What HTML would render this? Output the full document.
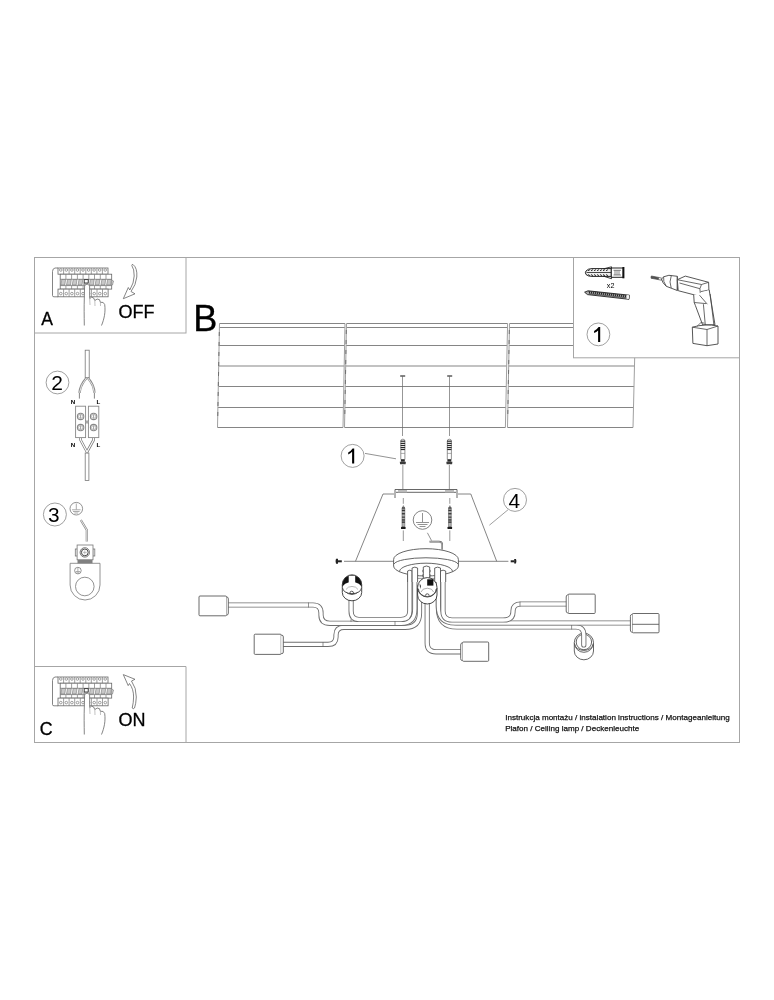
<!DOCTYPE html>
<html><head><meta charset="utf-8">
<style>
html,body{margin:0;padding:0;background:#fff;width:774px;height:1000px;overflow:hidden}
svg{position:absolute;left:0;top:0;display:block;will-change:transform}
text{font-family:"Liberation Sans",sans-serif;fill:#000}
</style></head>
<body>
<svg width="774" height="1000" viewBox="0 0 774 1000">
<rect x="0" y="0" width="774" height="1000" fill="#fff"/>

<!-- FRAME -->
<g fill="none" stroke="#a6a6a6" stroke-width="1">
  <rect x="34.5" y="257.5" width="705" height="485"/>
  <rect x="34.5" y="257.5" width="151.5" height="75.5"/>
  <line x1="34.5" y1="666.5" x2="186" y2="666.5"/>
  <line x1="186" y1="666.5" x2="186" y2="742.5"/>
</g>

<!-- PLANKS -->
<g fill="none" stroke="#858585" stroke-width="1">
  <path d="M219.5,323.5 H345 M219.4,327.5 H344.9 M219.1,345.5 H344.6 M218.7,366 H344.2 M218.3,386.5 H343.8 M217.9,407.5 H343.4 M217.5,427.5 H343"/>
  <path d="M346.5,323.5 H507.6 M346.4,327.5 H507.5 M346.1,345.5 H507.1 M345.7,366 H506.7 M345.3,386.5 H506.3 M344.9,407.5 H505.8 M344.5,427.5 H505.4"/>
  <path d="M509.5,323.5 H635.5 M509.4,327.5 H635.4 M509.1,345.5 H635 M508.7,366 H634.6 M508.3,386.5 H634.1 M507.9,407.5 H633.6 M507.5,427.5 H633"/>
</g>
<g fill="none" stroke="#a0a0a0" stroke-width="1">
  <path d="M219.5,323.5 L217.5,427.5 M345,323.5 L343,427.5 M346.5,323.5 L344.5,427.5 M507.6,323.5 L505.4,427.5 M509.5,323.5 L507.5,427.5 M635.5,323.5 L633,427.5"/>
</g>
<g fill="none" stroke="#707070" stroke-width="1" stroke-dasharray="4 6">
  <path d="M219.3,332 L217.7,420 M346.3,330 L344.7,420 M509.3,330 L507.7,420"/>
</g>

<!-- CENTER MOUNTING -->
<g fill="none" stroke="#6a6a6a" stroke-width="0.7">
  <path d="M402.5,376 V436 M449.5,376 V436"/>
  <path d="M402.85,465 V489 M449.35,465 V489"/>
  <path d="M403.3,498 V503.8 M449.8,498 V503.8 M403.3,530.4 V541 M449.8,530.4 V541"/>
</g>
<g fill="#666">
  <rect x="400.2" y="375.2" width="5" height="1.6"/>
  <rect x="447.2" y="375.2" width="5" height="1.6"/>
</g>
<!-- anchors -->
<g id="anchor1">
  <path d="M400.8,459.5 V441 Q400.8,439.2 402.85,439.2 Q404.9,439.2 404.9,441 V459.5" fill="#fff" stroke="#666" stroke-width="0.7"/>
  <g fill="#2a2a2a">
    <rect x="400.6" y="440.6" width="4.5" height="1.2"/>
    <rect x="400.6" y="442.8" width="4.5" height="1.2"/>
    <rect x="400.6" y="444.9" width="4.5" height="1.2"/>
    <rect x="400.6" y="447" width="4.5" height="1.2"/>
    <rect x="400.8" y="449" width="4.1" height="1.1"/>
    <rect x="400.9" y="459.2" width="3.9" height="2.5"/>
  </g>
  <path d="M400.8,453.4 H404.9" stroke="#777" stroke-width="0.6"/>
  <path d="M399.8,461.7 H405.9 L405.6,464.2 H400.1 Z" fill="#3a3a3a"/>
</g>
<use href="#anchor1" x="46.5"/>
<!-- circle 1 -->
<circle cx="352.6" cy="455.9" r="11.5" fill="none" stroke="#888" stroke-width="0.8"/>
<path d="M354.2,448.5 V463.6 H352.1 V451.8 Q350.5,453.5 348.2,454.6 V452.5 Q351,451 352.6,448.5 Z" fill="#000"/>
<line x1="365" y1="453.4" x2="396" y2="458.8" stroke="#777" stroke-width="0.8"/>
<!-- bracket -->
<g fill="none" stroke="#555" stroke-width="0.9">
  <path d="M395,498 V489.5 H457 V498"/>
  <path d="M396,492.3 H456"/>
</g>
<rect x="398" y="490" width="9" height="2.4" fill="#bbb"/>
<rect x="445" y="490" width="9" height="2.4" fill="#bbb"/>
<!-- trapezoid -->
<g fill="none" stroke="#666" stroke-width="0.8">
  <path d="M394,494 H383 L355.5,561.3 M458,494 H470.8 L496.7,561.3"/>
  <path d="M344,561.3 H395 M457,561.3 H508.4"/>
</g>
<!-- side screws -->
<g fill="#222">
  <rect x="337.8" y="560.3" width="4" height="2"/>
  <path d="M336,558.8 Q335,561.3 336,563.8 H338 V558.8 Z"/>
  <rect x="510.7" y="560.3" width="3.6" height="2"/>
  <path d="M514.2,559 H516 Q517,561.3 516,563.6 H514.2 Z"/>
</g>
<!-- wood screws -->
<g id="wscrew">
  <path d="M402,508.5 L403.4,505.6 L404.8,508.5 V526.6 H402 Z" fill="#b0b0b0" stroke="#555" stroke-width="0.5"/>
  <g fill="#333">
    <rect x="401.9" y="507.4" width="3" height="1.2"/>
    <rect x="401.9" y="509.8" width="3" height="1.3"/>
    <rect x="401.9" y="513.1" width="3" height="1.3"/>
    <rect x="401.9" y="516.6" width="3" height="1.1"/>
    <rect x="401.9" y="519.3" width="3" height="1.3"/>
    <rect x="401.9" y="521.5" width="3" height="1.3"/>
  </g>
  <rect x="401" y="526.8" width="4.6" height="2.3" rx="0.6" fill="#1a1a1a"/>
</g>
<use href="#wscrew" x="46.5"/>
<!-- circle 4 -->
<circle cx="515" cy="499.9" r="11.5" fill="none" stroke="#888" stroke-width="0.8"/>
<text x="508.4" y="507.5" font-size="20.8">4</text>
<line x1="508.1" y1="509.7" x2="489.4" y2="525.2" stroke="#888" stroke-width="0.8"/>
<!-- ground symbol -->
<circle cx="422.5" cy="520" r="9.3" fill="none" stroke="#666" stroke-width="0.8"/>
<g stroke="#777" stroke-width="0.8" fill="none">
  <path d="M422.5,513 V522 M416,522.5 H429 M417.5,524.5 H427.5 M419.5,526.5 H425.5"/>
</g>
<path d="M427.4,532.8 L431.5,540.5" stroke="#777" stroke-width="0.8" fill="none"/>
<path d="M429.5,541.6 H439 Q442.2,541.6 442.2,545 V549.5" stroke="#555" stroke-width="1.6" fill="none"/>
<path d="M429.5,541.6 H439 Q442.2,541.6 442.2,545 V549.5" stroke="#fff" stroke-width="0.5" fill="none"/>

<!-- socket F -->
<g fill="none" stroke="#555" stroke-width="0.9">
  <path d="M574.3,642.7 V651 A9.6,8.8 0 0 0 593.5,651 V642.7" fill="#fff"/>
  <circle cx="583.9" cy="642.7" r="9.6" fill="#fff"/>
  <path d="M574.5,644 A9.5,7.5 0 0 0 593.3,644"/>
  <circle cx="583.9" cy="642" r="7.7"/>
</g>
<!-- ARMS -->
<defs>
  <path id="tA" d="M414.8,568 V609 Q414.8,623.3 401,623.3 H330 Q321,623.3 321,615 V613 Q321,605 313,605 H227"/>
  <path id="tB" d="M419.5,585 V613 Q419.5,627.4 405,627.4 H344 Q336,627.4 336,635 V637 Q336,644.4 328,644.4 H282"/>
  <path id="tS" d="M409.8,571 V611 Q409.8,619.5 401,619.5 H359 Q351.1,619.5 351.1,611 V598"/>
  <path id="tC" d="M427.2,598 V643 Q427.2,651.8 436,651.8 H461"/>
  <path id="tD" d="M443,571 V611 Q443,620 452,620 H503 Q513,620 513,612 V611 Q513,604 521,604 H567"/>
  <path id="tE" d="M438.4,568 V606 Q438.4,623 455,623 H631"/>
  <path id="tF" d="M438.4,600 V608 Q438.4,627 457,627 H576 Q583.8,627 583.8,635 V645"/>
</defs>
<g fill="none" stroke-linejoin="round">
  <g stroke="#6e6e6e" stroke-width="5.2" stroke-linecap="round">
    <use href="#tF"/>
  </g>
  <g stroke="#fff" stroke-width="3.4" stroke-linecap="round">
    <use href="#tF"/>
  </g>
  <g stroke="#6e6e6e" stroke-width="5.2">
    <use href="#tE"/>
  </g>
  <g stroke="#fff" stroke-width="3.4">
    <use href="#tE"/>
  </g>
  <g stroke="#6e6e6e" stroke-width="5.2"><use href="#tD"/></g>
  <g stroke="#fff" stroke-width="3.4"><use href="#tD"/></g>
  <g stroke="#6e6e6e" stroke-width="5.2"><use href="#tB"/></g>
  <g stroke="#fff" stroke-width="3.4"><use href="#tB"/></g>
  <g stroke="#6e6e6e" stroke-width="5.2"><use href="#tA"/></g>
  <g stroke="#fff" stroke-width="3.4"><use href="#tA"/></g>
  <g stroke="#6e6e6e" stroke-width="5.2"><use href="#tS"/></g>
  <g stroke="#fff" stroke-width="3.4"><use href="#tS"/></g>
  <g stroke="#6e6e6e" stroke-width="5.2"><use href="#tC"/></g>
  <g stroke="#fff" stroke-width="3.4"><use href="#tC"/></g>
</g>
<!-- joints -->
<g stroke="#666" stroke-width="0.7">
  <path d="M308.5,602.5 V607.5 M323,642 V647 M351,619.3 V621.9 M395,621 V625.6 M571.6,625 V629.5 M520,601.5 V606.5"/>
</g>
<!-- shades -->
<g fill="#fff" stroke="#5a5a5a" stroke-width="0.9">
  <rect x="199" y="596" width="27.5" height="19.8" rx="1"/>
  <path d="M226.5,597 H227 Q228.3,597 228.3,599 V613 Q228.3,615 227,615 H226.5"/>
  <rect x="254.2" y="634.2" width="27" height="20.2" rx="1"/>
  <path d="M281.2,635.2 H282 Q283.3,635.2 283.3,637 V652 Q283.3,653.6 282,653.6 H281.2"/>
  <rect x="462.5" y="642" width="26.2" height="19.3" rx="1"/>
  <path d="M462.5,643 H461.9 Q460.7,643 460.7,645 V658.5 Q460.7,660.5 461.9,660.5 H462.5"/>
  <rect x="568" y="594.1" width="27.2" height="19.4" rx="1"/>
  <path d="M568,595 H567.5 Q566.2,595 566.2,597 V611 Q566.2,612.8 567.5,612.8 H568"/>
  <rect x="632.2" y="613.5" width="26.8" height="19.3" rx="1"/>
  <path d="M632.2,614.5 H631.6 Q630.4,614.5 630.4,616.5 V630 Q630.4,632 631.6,632 H632.2"/>
  <path d="M632.2,624.3 H659" fill="none"/>
</g>
<!-- canopy -->
<g stroke="#555" stroke-width="0.9">
  <path d="M393.6,559.5 A32.4,10.8 0 0 1 458.4,559.5 V566 A32.4,10 0 0 1 393.6,566 Z" fill="#fff"/>
  <path d="M394,564 A32.2,7 0 0 1 458,564" fill="none"/>
  <path d="M399.5,571.5 A26.5,8.3 0 0 1 452.5,571.5" fill="none"/>
</g>
<!-- drop tubes near canopy -->
<g fill="#fff" stroke="#555" stroke-width="0.9">
  <path d="M407.6,582 V571 Q409.8,569.3 412.1,571 V582"/>
  <path d="M412.1,582 V568 Q414.8,566.3 417.6,568 V582"/>
  <path d="M434.7,582 V568 Q437.6,566.3 440.5,568 V582"/>
  <path d="M440.5,582 V571 Q443,569.3 445.7,571 V582"/>
</g>
<g fill="#fff" stroke="#555" stroke-width="0.9">
  <path d="M423.3,579 V567 Q426.5,565 429.7,567 V579" />
  <path d="M423.3,569.5 l-0.8,1.5 l0.8,1.5 M423.3,574 l-0.8,1.5 l0.8,1.5 M429.7,569.5 l0.8,1.5 l-0.8,1.5 M429.7,574 l0.8,1.5 l-0.8,1.5" fill="none" stroke-width="0.7"/>
  <path d="M417.6,578.4 H434.7" fill="none" stroke-width="0.6"/>
</g>
<!-- sockets (cups) -->
<defs>
  <clipPath id="clipTop1"><rect x="330" y="570" width="50" height="13.3"/></clipPath>
  <clipPath id="clipTop2"><rect x="400" y="570" width="50" height="15.5"/></clipPath>
</defs>
<g id="sockL">
  <path d="M342.3,585 V592.5 A9.7,8.3 0 0 0 361.7,592.5 V585" fill="#fff" stroke="#333" stroke-width="0.9"/>
  <circle cx="352" cy="584.6" r="9.7" fill="#111" stroke="#333" stroke-width="0.9"/>
  <ellipse cx="352" cy="588" rx="9.6" ry="6" fill="#fff"/>
  <rect x="348.7" y="575.3" width="6.5" height="9" fill="#fff"/>
  <path d="M348.7,575.3 H355.2" stroke="#333" stroke-width="0.8"/>
  <path d="M342.4,587.5 A9.6,6.2 0 0 0 361.6,587.5" fill="none" stroke="#333" stroke-width="0.9"/>
  <path d="M346,589.5 A6.5,5 0 0 1 358,589.5" fill="none" stroke="#888" stroke-width="0.6"/>
  <path d="M349.9,593 A1.8,1.8 0 0 1 353.5,593" fill="none" stroke="#333" stroke-width="0.8"/>
</g>
<g>
  <path d="M417.6,588 V595 A9.7,9 0 0 0 437,595 V588" fill="#fff" stroke="#333" stroke-width="0.9"/>
  <circle cx="427.3" cy="587.3" r="9.7" fill="#fff" stroke="#333" stroke-width="0.9"/>
  <rect x="427.2" y="579.3" width="6.2" height="6.3" fill="#111"/>
  <path d="M419.5,583 L421,586 L420.2,589 Z" fill="#333"/>
  <path d="M418.5,589 A8.8,7.5 0 0 0 436.1,589" fill="none" stroke="#444" stroke-width="0.8"/>
  <path d="M421,592 A6.5,5 0 0 1 433.6,592" fill="none" stroke="#777" stroke-width="0.6"/>
  <path d="M425.5,595.6 A1.8,1.8 0 0 1 429.1,595.6" fill="none" stroke="#333" stroke-width="0.8"/>
</g>
<!-- BOX 1 -->
<rect x="573.5" y="257.5" width="166" height="100.3" fill="#fff" stroke="#a6a6a6" stroke-width="1"/>
<g>
  <!-- plug -->
  <path d="M586,271 Q584.8,272.5 586,274.5 Q588,276.4 592,276.4 H611.3 V268.6 H592 Q588,268.6 586,271 Z" fill="#eee" stroke="#222" stroke-width="1"/>
  <path d="M586.5,272.5 H611" stroke="#333" stroke-width="0.9"/>
  <path d="M588,270.8 l2,-1.2 M591,270.8 l2,-1.2 M594,270.8 l2,-1.2 M597,270.8 l2,-1.2 M600,270.8 l2,-1.2 M603,270.8 l2,-1.2 M606,270.8 l2,-1.2 M588,274.5 l2,1.2 M591,274.5 l2,1.2 M594,274.5 l2,1.2 M597,274.5 l2,1.2 M600,274.5 l2,1.2 M603,274.5 l2,1.2 M606,274.5 l2,1.2" stroke="#222" stroke-width="0.9"/>
  <path d="M603,269 L611.5,266.8 V269 M603,276 L611.5,278.7 V276" fill="none" stroke="#222" stroke-width="0.9"/>
  <rect x="611.3" y="268" width="12" height="9.3" fill="#fff" stroke="#222" stroke-width="1"/>
  <path d="M613.5,270.3 H621 M613.5,275 H621 M615,270.3 V275 M617,270.3 V275 M619,270.3 V275" stroke="#555" stroke-width="0.7"/>
  <rect x="622.4" y="267" width="2" height="11.3" fill="#111"/>
  <text x="606.8" y="288.1" font-size="7.2">x2</text>
  <!-- screw -->
  <path d="M584.6,292.2 L588,290.8 L629.4,295.2 L629,299.3 L587.5,294.6 Z" fill="#aaa" stroke="#222" stroke-width="0.9"/>
  <path d="M589,291 l1.2,3.4 M591,291.2 l1.2,3.4 M593,291.4 l1.2,3.4 M595,291.6 l1.2,3.4 M597,291.8 l1.2,3.4 M599,292 l1.2,3.4 M601,292.2 l1.2,3.4 M603,292.5 l1.2,3.4 M605,292.7 l1.2,3.4 M607,292.9 l1.2,3.4 M609,293.1 l1.2,3.4 M611,293.3 l1.2,3.4 M613,293.6 l1.2,3.4 M615,293.8 l1.2,3.4 M617,294 l1.2,3.4 M619,294.2 l1.2,3.4 M621,294.4 l1.2,3.4 M623,294.7 l1.2,3.4 M625,294.9 l1.2,3.4" stroke="#111" stroke-width="0.9"/>
  <rect x="626.6" y="295.2" width="2.4" height="3.8" fill="#f4f4f4" transform="rotate(6 627.8 297)"/>
  <!-- circle 1 -->
  <circle cx="598.4" cy="334.4" r="11.4" fill="none" stroke="#888" stroke-width="0.8"/>
  <path d="M600.2,327 V341.9 H598.1 V330.4 Q596.5,332 594.1,333 V331 Q597,329.5 598.6,327 Z" fill="#000"/>
  <!-- drill -->
  <g fill="none" stroke="#444" stroke-width="0.9" stroke-linejoin="round">
    <path d="M651.3,276 L658.5,277.4 L658.3,279.6 L651,278.2 Z" fill="#555" stroke-width="0.7"/>
    <path d="M658.5,277.4 L661.8,278.2 L661.5,280.2 L658.3,279.6" stroke-width="0.7"/>
    <path d="M661.5,279 Q662.5,276.3 668.9,275.3 L677.3,276.3 V290.5 L666.3,286.3 Q662.3,283 661.5,279 Z" fill="#fff"/>
    <path d="M663.6,276.8 Q662.8,281.5 666.3,286.3 M671.3,275.6 Q668.8,282 671.2,288 M677.3,276.3 V290.5" stroke-width="0.8"/>
    <path d="M677.3,279.7 L685.3,276.1 L708.6,282.3 L708.9,290 L709.2,293.9 L700.5,295.5 L694.4,294.9 L678.2,290.7 Z" fill="#fff"/>
    <path d="M677.3,279.7 L701.5,284.5 L708.6,282.3 M679.5,283 L699.9,288.7 M701.5,284.5 L699.9,288.7 L700.5,295.5 M700.8,291.6 L708.9,290" stroke-width="0.8"/>
    <path d="M693.7,294.9 L694.2,302.5 L695.4,305.5 L702.6,324.8 H715 L709.2,290" fill="#fff"/>
    <path d="M694.2,302.5 L706,303.6 M699.5,295.2 L707.3,304.2 M703.4,304.2 L705.4,326 M710.2,294 L714,326" stroke-width="0.8"/>
    <path d="M692.3,327.2 Q705,323.5 718,326 V344 L707,345.7 L692.9,343.4 Z" fill="#fff"/>
    <path d="M692.3,327.2 L707,329.5 L718,326 M707,329.5 V345.7" stroke-width="0.8"/>
    <path d="M697,326.3 L701,322.5 L704.5,323.2" stroke-width="0.7"/>
  </g>
</g>

<!-- LEFT PANELS -->
<g id="panelA">
  <path d="M58,268 H55 Q52.5,268.5 52.5,271.5 V295.5 Q52.5,296.8 54,296.8 H58" fill="#fff" stroke="#666" stroke-width="0.8"/>
  <rect x="58" y="268" width="50" height="6.2" fill="#fff" stroke="#666" stroke-width="0.8"/>
  <rect x="60.2" y="274.2" width="51.5" height="14.9" fill="#fff" stroke="#666" stroke-width="0.8"/>
  <rect x="58" y="289.1" width="50.1" height="7.7" fill="#fff" stroke="#666" stroke-width="0.8"/>
  <path d="M63.6,268 V274.2 M69.1,268 V274.2 M74.7,268 V274.2 M80.2,268 V274.2 M85.8,268 V274.2 M91.3,268 V274.2 M96.9,268 V274.2 M102.4,268 V274.2 M63.6,289.1 V296.8 M69.1,289.1 V296.8 M74.7,289.1 V296.8 M80.3,289.1 V296.8 M85.8,289.1 V296.8 M91.4,289.1 V296.8 M97.0,289.1 V296.8 M102.5,289.1 V296.8 M65.9,274.2 V279 M65.9,285.8 V289.1 M71.6,274.2 V279 M71.6,285.8 V289.1 M77.4,274.2 V279 M77.4,285.8 V289.1 M83.1,274.2 V279 M83.1,285.8 V289.1 M88.8,274.2 V279 M88.8,285.8 V289.1 M94.5,274.2 V279 M94.5,285.8 V289.1 M100.3,274.2 V279 M100.3,285.8 V289.1 M106.0,274.2 V279 M106.0,285.8 V289.1 " stroke="#777" stroke-width="0.7" fill="none"/>
  <g fill="none" stroke="#777" stroke-width="0.7"><circle cx="60.8" cy="270" r="1.3"/><circle cx="60.8" cy="293.6" r="1.3"/><circle cx="66.3" cy="270" r="1.3"/><circle cx="66.3" cy="293.6" r="1.3"/><circle cx="71.9" cy="270" r="1.3"/><circle cx="71.9" cy="293.6" r="1.3"/><circle cx="77.4" cy="270" r="1.3"/><circle cx="77.5" cy="293.6" r="1.3"/><circle cx="83.0" cy="270" r="1.3"/><circle cx="83.0" cy="293.6" r="1.3"/><circle cx="88.6" cy="270" r="1.3"/><circle cx="88.6" cy="293.6" r="1.3"/><circle cx="94.1" cy="270" r="1.3"/><circle cx="94.2" cy="293.6" r="1.3"/><circle cx="99.7" cy="270" r="1.3"/><circle cx="99.8" cy="293.6" r="1.3"/><circle cx="105.2" cy="270" r="1.3"/><circle cx="105.3" cy="293.6" r="1.3"/></g>
  <path d="M60.2,279.3 H111.7 M60.2,285.6 H111.7" stroke="#777" stroke-width="0.8" fill="none"/>
  <g fill="#c8c8c8" stroke="#666" stroke-width="0.5"><path d="M60.8,285 L61.8,279.5 H65.6 L64.8,285 Z"/><path d="M66.5,285 L67.5,279.5 H71.3 L70.5,285 Z"/><path d="M72.2,285 L73.2,279.5 H77.0 L76.2,285 Z"/><path d="M78.0,285 L79.0,279.5 H82.8 L82.0,285 Z"/><path d="M83.7,285 L84.7,279.5 H88.5 L87.7,285 Z"/><path d="M89.4,285 L90.4,279.5 H94.2 L93.4,285 Z"/><path d="M95.1,285 L96.1,279.5 H99.9 L99.1,285 Z"/><path d="M100.9,285 L101.9,279.5 H105.7 L104.9,285 Z"/><path d="M106.6,285 L107.6,279.5 H111.4 L110.6,285 Z"/></g>
  <path d="M111.7,280 L113.5,281 L112.5,285 H111.7" fill="#ccc" stroke="#777" stroke-width="0.6"/>
  <rect x="84.2" y="279.6" width="4" height="3.4" fill="#fff" stroke="#333" stroke-width="0.9"/>
  <path d="M84.3,325.5 C84.2,316 84,306 84.3,299 L84.6,285.5 Q87.1,282.6 89.6,285.5 L89.7,298.5 Q91.5,296.5 93.5,297.8 L94.8,300.5 Q97.2,298 99.5,299.7 L100.4,302.3 Q103.7,301.5 104.7,304.5 C105.7,312 104.2,319 101.5,325.5" fill="#fff" stroke="#666" stroke-width="0.8"/>
  <path d="M89.7,298.5 L90,305 M94.8,300.5 L95,306 M100.4,302.3 L100.5,306" fill="none" stroke="#999" stroke-width="0.6"/>
</g>
<use href="#panelA" y="409"/>
<!-- arrows -->
<path d="M133,264.5 Q137.5,268 136.8,277 Q136,285 131,291.5 L135,293.8 L123.3,298.7 L128.3,287.5 L129.8,290 Q134,283 134.2,276 Q134.3,269 131.8,265.5 Q132,264 133,264.5 Z" fill="#fff" stroke="#666" stroke-width="0.8"/>
<path d="M123.3,674.6 L135,679.3 L131.5,681 Q136.5,688 136.3,697 Q136,704 134.5,708 Q133,709.5 132.2,708 Q133.5,703 133.6,697 Q133.6,689 129.5,683.5 L128.2,685.6 Z" fill="#fff" stroke="#666" stroke-width="0.8"/>

<!-- circle 2 wiring -->
<circle cx="57.5" cy="382.5" r="11.4" fill="none" stroke="#888" stroke-width="0.8"/>
<text x="51.3" y="390.1" font-size="21">2</text>
<g fill="#fff" stroke="#777" stroke-width="0.8">
  <rect x="85.2" y="350.2" width="4" height="27.4"/>
  <rect x="85.2" y="453" width="3.7" height="27.4"/>
</g>
<g fill="none" stroke-linejoin="round">
  <path d="M86.6,377.8 Q80.3,385 79.5,392.8 M87.8,377.8 Q94,385 94.4,392.8" stroke="#8a8a8a" stroke-width="2.4"/>
  <path d="M86.6,377.8 Q80.3,385 79.5,392.8 M87.8,377.8 Q94,385 94.4,392.8" stroke="#e4e4e4" stroke-width="1"/>
  <path d="M79.4,392.8 V398.6 M94.4,392.8 V398.6" stroke="#777" stroke-width="0.9"/>
  <path d="M80.6,438 V440 L87,452 L93.6,440 V438" stroke="#777" stroke-width="2.6"/>
  <path d="M80.6,438 V440 L87,452 L93.6,440 V438" stroke="#fff" stroke-width="1.2"/>
</g>
<g fill="#fff" stroke="#888" stroke-width="0.9">
  <rect x="75.6" y="406.2" width="10" height="31.4"/>
  <rect x="88.4" y="406.2" width="10.4" height="31.4"/>
</g>
<g fill="none" stroke="#888" stroke-width="0.8">
  <circle cx="80.6" cy="416.4" r="3.2" stroke-width="1.1"/><circle cx="80.6" cy="427.6" r="3.2" stroke-width="1.1"/>
  <circle cx="93.6" cy="416.4" r="3.2" stroke-width="1.1"/><circle cx="93.6" cy="427.6" r="3.2" stroke-width="1.1"/>
  <circle cx="80.6" cy="416.4" r="2.1" stroke="#aaa"/><circle cx="80.6" cy="427.6" r="2.1" stroke="#aaa"/>
  <circle cx="93.6" cy="416.4" r="2.1" stroke="#aaa"/><circle cx="93.6" cy="427.6" r="2.1" stroke="#aaa"/>
  <path d="M80.6,414.5 V418.3 M80.6,425.7 V429.5 M93.6,414.5 V418.3 M93.6,425.7 V429.5"/>
  <path d="M85.6,420 L87,422 L88.4,420 M85.6,424 L87,422 L88.4,424"/>
</g>
<g font-weight="bold" font-size="6.2">
  <text x="70.8" y="404.3">N</text><text x="96.6" y="404.3">L</text>
  <text x="70.8" y="446.5">N</text><text x="96.6" y="446.5">L</text>
</g>

<!-- circle 3 ground lug -->
<circle cx="54.9" cy="514.5" r="11.5" fill="none" stroke="#888" stroke-width="0.8"/>
<text x="47.9" y="522.3" font-size="20.8">3</text>
<circle cx="76.3" cy="508.7" r="6.3" fill="none" stroke="#777" stroke-width="0.8"/>
<path d="M76.3,503.5 V509.5 M72,509.8 H80.6 M73,511.5 H79.6 M74.3,513 H78.3" stroke="#888" stroke-width="0.7" fill="none"/>
<path d="M80.8,520 L86.8,530 V541.5" stroke="#888" stroke-width="2.2" fill="none"/>
<path d="M80.8,520 L86.8,530 V541.5" stroke="#fff" stroke-width="0.8" fill="none"/>
<g fill="#fff" stroke="#777" stroke-width="0.8">
  <path d="M70.1,563.3 H100 V585 A14.95,15 0 0 1 70.1,585 Z"/>
  <circle cx="84.8" cy="586.5" r="9.3"/>
  <circle cx="77.9" cy="570.6" r="3.3"/>
  <rect x="75.3" y="549" width="2" height="7"/>
  <rect x="92.8" y="549" width="2" height="7"/>
  <rect x="77.1" y="545" width="15.9" height="14.8"/>
</g>
<path d="M77.9,568 V571.3 M75.8,571.5 H80 M76.5,572.8 H79.3" stroke="#777" stroke-width="0.6" fill="none"/>
<rect x="77.5" y="559.8" width="15" height="3.5" fill="#808080"/>
<circle cx="84.8" cy="552.4" r="4.7" fill="#fff" stroke="#555" stroke-width="0.8"/>
<circle cx="84.8" cy="552.4" r="3.4" fill="#fff" stroke="#333" stroke-width="0.9"/>
<path d="M82.8,552.4 H86.8 M84.8,550.4 V554.4" stroke="#999" stroke-width="0.6"/>

<!-- LETTERS -->
<text x="193.3" y="330.9" font-size="36.2" stroke="#000" stroke-width="0.3">B</text>
<text x="41.2" y="325" font-size="17.5" stroke="#000" stroke-width="0.3">A</text>
<text x="39.8" y="734.6" font-size="17.8" stroke="#000" stroke-width="0.3">C</text>
<text x="118.6" y="318.2" font-size="18" stroke="#000" stroke-width="0.3">OFF</text>
<text x="118.6" y="726.2" font-size="18" stroke="#000" stroke-width="0.3">ON</text>

<text x="505.2" y="720.3" font-size="8.1" textLength="224.5" lengthAdjust="spacingAndGlyphs" stroke="#222" stroke-width="0.25">Instrukcja montażu / instalation instructions / Montageanleitung</text>
<text x="505.2" y="730.9" font-size="8.1" textLength="134" lengthAdjust="spacingAndGlyphs" stroke="#222" stroke-width="0.25">Plafon / Ceiling lamp / Deckenleuchte</text>

</svg>
</body></html>
